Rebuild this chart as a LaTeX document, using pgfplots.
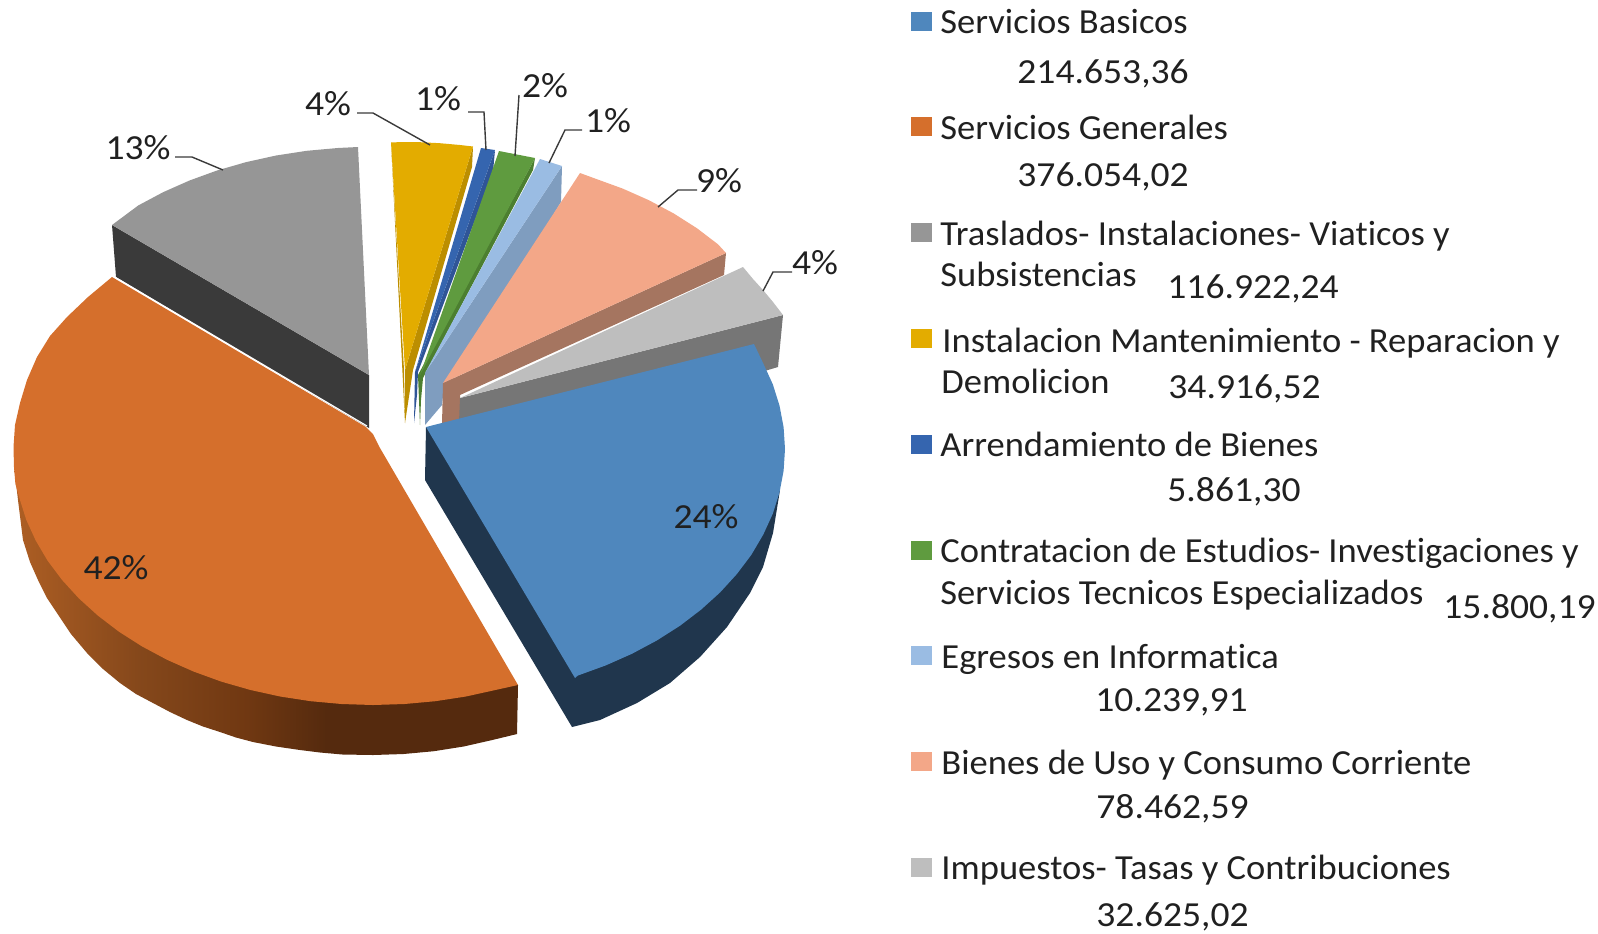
\documentclass[border=0pt]{standalone}
\usepackage{pgfplots}
\pgfplotsset{compat=1.18}
\usepackage{fontspec}
\setmainfont{Carlito}[Ligatures=NoCommon]
\definecolor{txt}{HTML}{202020}
\definecolor{leader}{HTML}{3A3A3A}
\definecolor{cBlue}{HTML}{4F87BD}\definecolor{cBlueS}{HTML}{20364D}
\definecolor{cOr}{HTML}{D56F2C}
\definecolor{cGr}{HTML}{969696}\definecolor{cGrS}{HTML}{3A3A3A}
\definecolor{cYe}{HTML}{E3AC00}\definecolor{cYeS}{HTML}{BC8E00}
\definecolor{cDb}{HTML}{3565AF}\definecolor{cDbS}{HTML}{2F5597}
\definecolor{cGn}{HTML}{5F9B3F}\definecolor{cGnS}{HTML}{4C7F30}
\definecolor{cLb}{HTML}{9ABCE3}\definecolor{cLbS}{HTML}{7F9DBF}
\definecolor{cSa}{HTML}{F3A788}\definecolor{cSaS}{HTML}{A57560}
\definecolor{cLg}{HTML}{BEBEBE}\definecolor{cLgS}{HTML}{767676}
\pgfdeclarehorizontalshading{orside}{100bp}{
 rgb(0bp)=(0.68,0.37,0.14);
 rgb(25bp)=(0.68,0.37,0.14);
 rgb(37.5bp)=(0.52,0.28,0.105);
 rgb(48bp)=(0.44,0.22,0.07);
 rgb(56bp)=(0.333,0.165,0.055);
 rgb(100bp)=(0.333,0.165,0.055)}
\newcommand\lgd[3]{\node[anchor=base west,yshift=-0.5pt,inner sep=0pt,text=txt,font=\fontsize{17.6}{20}\selectfont] at (axis cs:#1,#2) {\scalebox{1.038}[1]{#3}};}
\newcommand\lgn[3]{\node[anchor=base west,yshift=-0.5pt,inner sep=0pt,text=txt,font=\fontsize{17.6}{20}\selectfont] at (axis cs:#1,#2) {\scalebox{1.068}[1]{#3}};}
\newcommand\lbl[3]{\node[anchor=center,yshift=-0.5pt,inner sep=0pt,text=txt,font=\fontsize{17.6}{20}\selectfont] at (axis cs:#1,#2) {\scalebox{1.068}[1]{#3}};}
\begin{document}
\begin{tikzpicture}
\begin{axis}[name=ax,scale only axis,width=799pt,height=466.5pt,xmin=0,xmax=1598,ymin=0,ymax=933,y dir=reverse,hide axis,clip=false,
  every axis plot/.append style={no markers,draw=none,forget plot}]
% Traslados
\addplot[fill=cGrS] coordinates {(112,225)(369,375)(369,428)(116,277)};
\addplot[fill=cGr] coordinates {(112,225)(138.2,205.5)(163.1,192.2)(189.5,180.5)(217.3,170.4)(246.2,162.1)(276.1,155.5)(306.7,150.8)(337.7,148)(358,147)(369,375)};
% Instalacion
\addplot[fill=cYeS] coordinates {(391,142)(405,423)(404,370)};
\addplot[fill=cYeS] coordinates {(473,146.5)(472,167)(413,370)(405,423)(405,370)};
\addplot[fill=cYe] coordinates {(391,142.4)(405,142)(420,142.2)(440,143.2)(460,145)(473,146.5)(405,370)};
% Arrendamiento
\addplot[fill=cDbS] coordinates {(495,150)(493,172)(418,372)(417,395)(414,423)(415,372)};
\addplot[fill=cDb] coordinates {(481,148)(495,150)(415,372)};
% Contratacion
\addplot[fill=cGnS] coordinates {(535,158)(533,170)(423,378)(421,400)(420,425)(418,375)};
\addplot[fill=cGn] coordinates {(499,151)(535,158)(420,375)};
% Egresos
\addplot[fill=cLbS] coordinates {(562,166)(561,202)(443,396)(442,405)(425,425)(425,373)};
\addplot[fill=cLb] coordinates {(540,159)(562,166)(425,373)};
% Bienes de uso
\addplot[fill=cSaS] coordinates {(726,253)(724,275)(460,395)(460,420)(442,424)(443,383)};
\addplot[fill=cSa] coordinates {(580,173)(594.7,178.4)(622.5,188.5)(648.9,200.2)(673.8,213.5)(696.9,228.2)(718,244.3)(726,253)(443,383)};
% Impuestos
\addplot[fill=cLgS] coordinates {(783,315)(778,367)(600,420)(459,422)(460,398)};
\addplot[fill=cLg] coordinates {(460,398)(743,267)(753,279)(763,290)(773,302)(783,315)};
% Servicios Basicos
\addplot[fill=cBlueS] coordinates {(426,427)(425,480)(572,727)(600,720)(637,703)(670,683)(700,657)(727,627)(750,593)(763,567)(773,533)(780,490)(700,440)};
\addplot[fill=cBlue] coordinates {(426,427)(754,344)(763.3,363.5)(772.8,384.3)(779.5,405.6)(783.6,427.2)(785,449)(783.6,470.8)(779.5,492.4)(772.8,513.7)(763.3,534.5)(751.4,554.7)(736.9,574)(720.1,592.4)(701,609.7)(679.9,625.8)(656.8,640.5)(631.9,653.8)(605.5,665.5)(577.7,675.6)(575,678)};
% Servicios Generales
\addplot[shade,shading=orside] coordinates {(14.5,470)(18,500)(23,540)(30,562)(38,580)(47,598)(57,613)(71,634)(87,653)(103,669)(120,683)(136,694)(153,703)(170,712)(187,720)(203,726.5)(220,732)(236,737.5)(253,742)(276,746.5)(300,750)(320,752.5)(342.5,754.5)(373,755)(403.5,754)(433.8,751.2)(463.6,746.5)(492.7,739.9)(517,734)(518,685)(373,600)};
\addplot[fill=cOr] coordinates {(518,685)(495.8,689.9)(465.9,696.5)(435.3,701.2)(404.3,704)(373,705)(341.7,704)(310.7,701.2)(280.1,696.5)(250.2,689.9)(221.3,681.6)(193.5,671.5)(167.1,659.8)(142.2,646.5)(119.1,631.8)(98,615.7)(78.9,598.4)(62.1,580)(47.6,560.7)(35.7,540.5)(26.2,519.7)(19.5,498.4)(15.4,484)(14,467)(13.5,447)(15,425)(20,403)(27,380)(37,357)(50,336)(67,317)(88,297)(112,277)(366,427)(373,434)(380,448)};
\addplot[draw=white,line width=0.6pt] coordinates {(113,276)(367,426)};
% leaders
\addplot[draw=leader,line width=0.7pt] coordinates {(175,157)(192,157)(223,170)};
\addplot[draw=leader,line width=0.7pt] coordinates {(357,113)(373,113)(430,145)};
\addplot[draw=leader,line width=0.7pt] coordinates {(468,112)(484,112)(486,150)};
\addplot[draw=leader,line width=0.7pt] coordinates {(519,95)(515,156)};
\addplot[draw=leader,line width=0.7pt] coordinates {(582,130)(565,130)(549,163)};
\addplot[draw=leader,line width=0.7pt] coordinates {(697,190)(678,190)(658,207)};
\addplot[draw=leader,line width=0.7pt] coordinates {(792,272)(773,272)(763,291)};
% labels
\lbl{138}{147}{13\%}\lbl{328}{103}{4\%}\lbl{438}{98}{1\%}\lbl{545}{85}{2\%}\lbl{608}{120}{1\%}\lbl{719}{180}{9\%}\lbl{815}{262}{4\%}\lbl{116}{567}{42\%}\lbl{706}{516}{24\%}
% legend swatches
\addplot[fill=cBlue] coordinates {(911,12)(932,12)(932,31)(911,31)};
\addplot[fill=cOr] coordinates {(911,117)(932,117)(932,136)(911,136)};
\addplot[fill=cGr] coordinates {(911,223)(932,223)(932,242)(911,242)};
\addplot[fill=cYe] coordinates {(911,329)(932,329)(932,348)(911,348)};
\addplot[fill=cDb] coordinates {(911,435)(932,435)(932,454)(911,454)};
\addplot[fill=cGn] coordinates {(911,541)(932,541)(932,560)(911,560)};
\addplot[fill=cLb] coordinates {(911,646)(932,646)(932,665)(911,665)};
\addplot[fill=cSa] coordinates {(911,752)(932,752)(932,771)(911,771)};
\addplot[fill=cLg] coordinates {(911,858)(932,858)(932,877)(911,877)};
% legend text
\lgd{940}{32}{Servicios Basicos}
\lgn{1017}{82}{214.653,36}
\lgd{940}{138}{Servicios Generales}
\lgn{1017}{185}{376.054,02}
\lgd{940}{244}{Traslados- Instalaciones- Viaticos y}
\lgd{940}{285}{Subsistencias}
\lgn{1167}{297}{116.922,24}
\lgd{942}{351}{Instalacion Mantenimiento - Reparacion y}
\lgd{941}{392}{Demolicion}
\lgn{1168}{397}{34.916,52}
\lgd{940}{455}{Arrendamiento de Bienes}
\lgn{1167}{500}{5.861,30}
\lgd{940}{561}{Contratacion de Estudios- Investigaciones y}
\lgd{940}{603}{Servicios Tecnicos Especializados}
\lgn{1443}{617}{15.800,19}
\lgd{941}{667}{Egresos en Informatica}
\lgn{1095}{710}{10.239,91}
\lgd{941}{773}{Bienes de Uso y Consumo Corriente}
\lgn{1096}{817}{78.462,59}
\lgd{941}{878}{Impuestos- Tasas y Contribuciones}
\lgn{1096}{925}{32.625,02}
\end{axis}
\pgfresetboundingbox
\path[use as bounding box] (ax.south west) rectangle (ax.north east);
\end{tikzpicture}
\end{document}
